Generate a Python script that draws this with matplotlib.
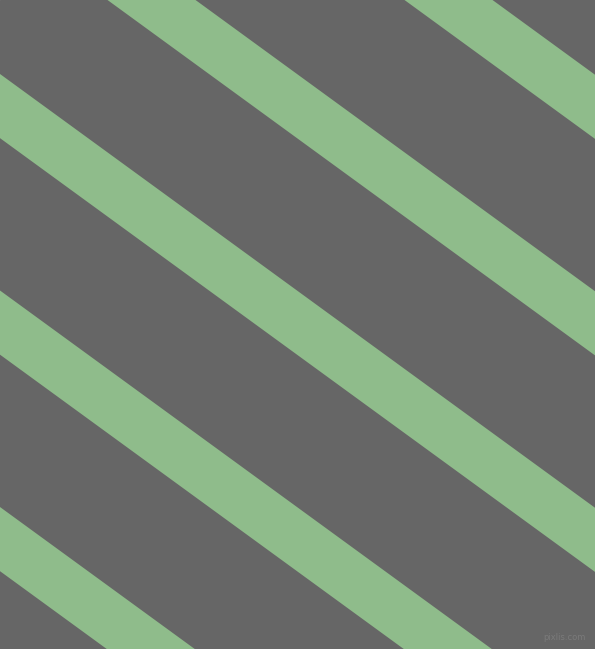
import matplotlib
matplotlib.use("Agg")
import matplotlib.pyplot as plt
import numpy as np

# Pattern description (pixel units)
bg_color = "#666666"
stripe_color = "#8FBC8B"
slope = 0.729            # vertical drop per horizontal pixel
period_x = 297           # horizontal spacing of stripes
stripe_width_x = 88      # horizontal thickness of a stripe
first_offset = 195.5     # x where an upper edge meets y=0
stripe_indices = [-4, -3, -2, -1, 0, 1, 2]
watermark = "pixlis.com"

W, H = 595, 649
fig = plt.figure(figsize=(W / 100, H / 100), dpi=100)
ax = fig.add_axes([0, 0, 1, 1])
ax.set_xlim(0, W)
ax.set_ylim(H, 0)
ax.axis("off")
ax.add_patch(plt.Rectangle((0, 0), W, H, color=bg_color, zorder=0))

ys = np.array([-50, H + 50])
for k in stripe_indices:
    x0 = first_offset + period_x * k
    xu = x0 + ys / slope
    xl = x0 - stripe_width_x + ys / slope
    ax.fill([xu[0], xu[1], xl[1], xl[0]], [ys[0], ys[1], ys[1], ys[0]],
            color=stripe_color, linewidth=0, zorder=1)

ax.text(586, 638, watermark, fontsize=6, color="#7a7a7a", ha="right", va="center", zorder=2)

fig.savefig("out.png", dpi=100)
